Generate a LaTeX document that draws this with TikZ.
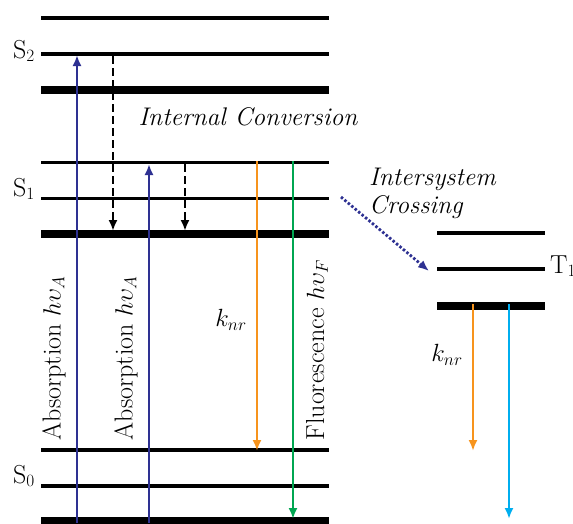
\documentclass[tikz,border=0pt]{standalone}
\usepackage{fontspec}
\usepackage{amsmath}
\usetikzlibrary{arrows,arrows.meta,positioning,calc}
\definecolor{absblue}{HTML}{2E3192}
\definecolor{nrorange}{HTML}{F7941D}
\definecolor{flgreen}{HTML}{00A651}
\definecolor{phcyan}{HTML}{00AEEF}

\begin{document}
\begin{tikzpicture}[x=1pt,y=-1pt,
  lvl/.style={line width=3.5pt},
  lvlbase/.style={line width=8pt},
  trans/.style={line width=2.2pt,-{Latex[length=11pt,width=9pt]}},
  lbl/.style={font=\fontsize{26}{30}\selectfont, inner sep=0pt},
  itlbl/.style={font=\fontsize{25.5}{30}\selectfont\itshape, inner sep=0pt}]
\useasboundingbox (0,0) rectangle (573,523);

% singlet levels
\foreach \y in {18,54,162.5,198.5,450,486}
  \draw[lvl] (41,\y) -- (329,\y);
\foreach \y in {90,234,521}
  \draw[lvlbase] (41,\y) -- (329,\y);
% triplet levels
\foreach \y in {233,269}
  \draw[lvl] (437,\y) -- (545,\y);
\draw[lvlbase] (437,306) -- (545,306);

% state labels
\node[lbl, anchor=base east] (s2) at (35,58) {S$_2$};
\node[lbl, anchor=base east] (s1) at (35,196) {S$_1$};
\node[lbl, anchor=base east] (s0) at (35,483) {S$_0$};
\node[lbl, anchor=base west] (t1) at (550,273) {T$_1$};

% arrow ends
\coordinate (a1s) at (77,523);  \coordinate (a1e) at (77,55);
\coordinate (a2s) at (149,523); \coordinate (a2e) at (149,164);
\coordinate (ic1s) at (113,56); \coordinate (ic1e) at (113,231);
\coordinate (ic2s) at (185,164); \coordinate (ic2e) at (185,231);
\coordinate (nr1s) at (257,161); \coordinate (nr1e) at (257,451);
\coordinate (fls) at (293,161);  \coordinate (fle) at (293,519);
\coordinate (nr2s) at (473,304); \coordinate (nr2e) at (473,451);
\coordinate (phs) at (509,304);  \coordinate (phe) at (509,519);
\coordinate (iscs) at (341,197); \coordinate (isce) at (429,271);

\draw[trans, absblue] (a1s) -- (a1e);
\draw[trans, absblue] (a2s) -- (a2e);
\draw[trans, black, dash pattern=on 8pt off 4pt, line width=2.5pt] (ic1s) -- (ic1e);
\draw[trans, black, dash pattern=on 8pt off 4pt, line width=2.5pt] (ic2s) -- (ic2e);
\draw[trans, nrorange, line width=2.5pt] (nr1s) -- (nr1e);
\draw[trans, flgreen, line width=2.8pt] (fls) -- (fle);
\draw[trans, nrorange, line width=2.5pt] (nr2s) -- (nr2e);
\draw[trans, phcyan, line width=2.5pt] (phs) -- (phe);
\draw[trans, absblue, line width=2.8pt, dash pattern=on 2.5pt off 2pt] (iscs) -- (isce);

% process labels
\node[lbl, rotate=90] (abs1) at (54,358) {Absorption $h\upsilon_{A}$};
\node[lbl, rotate=90] (abs2) at (126,358) {Absorption $h\upsilon_{A}$};
\node[lbl, rotate=90] (fluo) at (317,350) {Fluorescence $h\upsilon_{F}$};
\node[lbl] (knr1) at (231,320) {$k_{nr}$};
\node[lbl] (knr2) at (447,355) {$k_{nr}$};
\node[itlbl] (ic) at (248,117) {Internal Conversion};
\node[itlbl, anchor=base west] (isc1) at (369,185) {Intersystem};
\node[itlbl, anchor=base west] (isc2) at (369,213) {Crossing};
\end{tikzpicture}
\end{document}
